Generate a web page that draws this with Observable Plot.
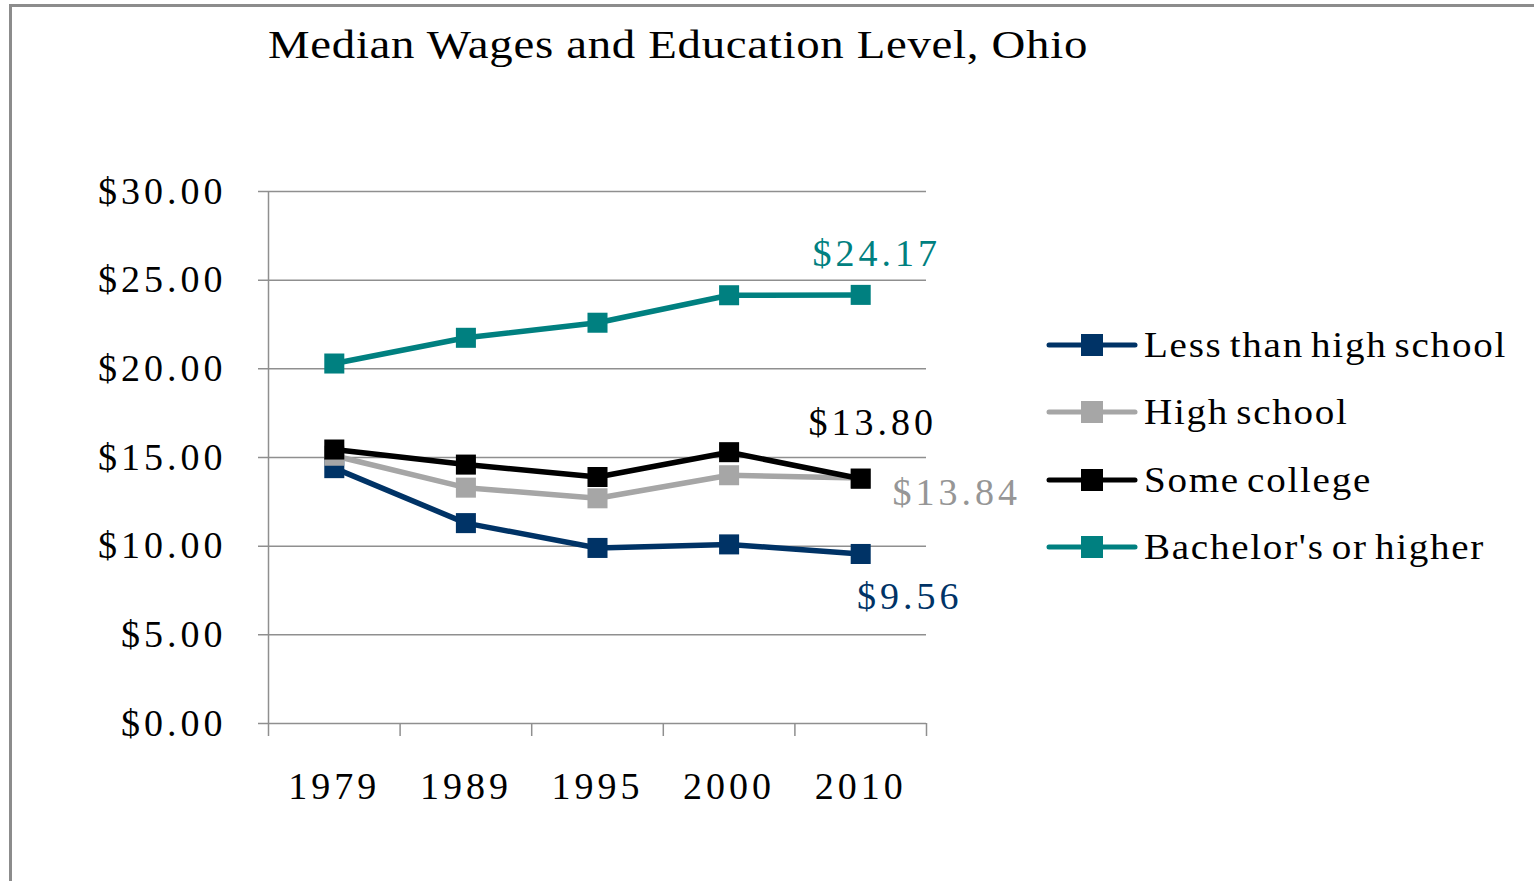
<!DOCTYPE html>
<html>
<head>
<meta charset="utf-8">
<script src="https://cdn.jsdelivr.net/npm/d3@7"></script>
<script src="https://cdn.jsdelivr.net/npm/@observablehq/plot@0.6"></script>
<style>
  html, body { margin: 0; padding: 0; background: #fff; overflow: hidden; }
  body { width: 1534px; height: 881px; position: relative; font-family: "Liberation Serif", "Times New Roman", serif; }
  #frame { position: absolute; left: 9px; top: 4px; width: 1600px; height: 1000px; border-left: 3px solid #8c8c8c; border-top: 3px solid #8c8c8c; }
  #chart { position: absolute; left: 0; top: 0; }
  #title { position: absolute; left: 268px; top: 25px; font-size: 40px; line-height: 40px; letter-spacing: 0.6px; white-space: nowrap; color: #000; transform: scaleX(1.17); transform-origin: 0 50%; }
  #legend { position: absolute; left: 1046px; top: 0; }
  .row { position: absolute; left: 0; height: 40px; display: flex; align-items: center; white-space: nowrap; }
  .row span { font-size: 36px; letter-spacing: 1.6px; word-spacing: -4px; margin-left: 6px; color: #000; display: inline-block; transform: scaleX(1.085); transform-origin: 0 50%; }
</style>
</head>
<body>
<div id="frame"></div>
<div id="chart"></div>
<div id="title">Median Wages and Education Level, Ohio</div>
<div id="legend"></div>
<script>
// ---- data ----
const years = ["1979", "1989", "1995", "2000", "2010"];
const seriesNames = ["Less than high school", "High school", "Some college", "Bachelor's or higher"];
const lessHS      = [14.40, 11.30, 9.90, 10.10, 9.56];
const highSchool  = [15.10, 13.30, 12.70, 14.00, 13.84];
const someCollege = [15.45, 14.60, 13.90, 15.30, 13.80];
const bachelors   = [20.30, 21.75, 22.60, 24.15, 24.17];
const seriesColors = ["#003366", "#a6a6a6", "#000000", "#008080"];
const labelColors  = ["#003366", "#969696", "#000000", "#008080"];
const yTicks = [0, 5, 10, 15, 20, 25, 30];
const endLabels = ["$9.56", "$13.84", "$13.80", "$24.17"];

const allValues = [lessHS, highSchool, someCollege, bachelors];
const data = [];
seriesNames.forEach((s, k) => allValues[k].forEach((v, i) => data.push({series: s, i, year: years[i], value: v})));
const lastPoints = seriesNames.map((s, k) => ({series: s, i: years.length - 1, value: allValues[k][years.length - 1], label: endLabels[k], color: labelColors[k]}));
const labelOffsets = {
  "Less than high school": {dx: 49, dy: 43},
  "High school": {dx: 96, dy: 15},
  "Some college": {dx: 12, dy: -56},
  "Bachelor's or higher": {dx: 16, dy: -41}
};
const bounds = d3.range(-0.5, years.length, 1);
const centers = d3.range(years.length);
const gridColor = "#8f8f8f";

const marks = [
  Plot.ruleY(yTicks, {x1: -0.5, x2: years.length - 0.5, insetLeft: -10, stroke: gridColor, strokeWidth: 1.5}),
  Plot.ruleX([-0.5], {stroke: gridColor, strokeWidth: 1.5}),
  Plot.ruleX(bounds, {x: d => d, y1: 0, y2: 0, insetBottom: -13, stroke: gridColor, strokeWidth: 1.5}),
  Plot.axisY({ticks: yTicks, tickSize: 0, tickPadding: 42, tickFormat: d => "$" + d.toFixed(2), fontSize: 38, fill: "#000", label: null}),
  Plot.axisX({ticks: centers, tickSize: 0, tickPadding: 49, tickFormat: i => years[i], fontSize: 38, fill: "#000", label: null})
];
seriesNames.forEach((s, k) => {
  const d = data.filter(r => r.series === s);
  marks.push(Plot.line(d, {x: "i", y: "value", stroke: seriesColors[k], strokeWidth: 5.5}));
  marks.push(Plot.dot(d, {x: "i", y: "value", symbol: "square", r: 11.3, fill: seriesColors[k], stroke: "none"}));
});
lastPoints.forEach(p => {
  const o = labelOffsets[p.series];
  marks.push(Plot.text([p], {x: "i", y: "value", text: "label", fill: p.color, dx: o.dx, dy: o.dy, fontSize: 38}));
});

const chart = Plot.plot({
  width: 1534,
  height: 881,
  marginLeft: 268,
  marginRight: 1534 - 926,
  marginTop: 191,
  marginBottom: 881 - 723,
  x: {type: "linear", domain: [-0.5, years.length - 0.5], axis: null},
  y: {domain: [0, 30], axis: null},
  style: {fontFamily: "'Liberation Serif', 'Times New Roman', serif", letterSpacing: "4px", background: "transparent", color: "#000"},
  marks
});
document.getElementById("chart").appendChild(chart);

// ---- legend ----
const legend = document.getElementById("legend");
const rowCenters = [345, 412, 480, 547];
seriesNames.forEach((s, k) => {
  const row = document.createElement("div");
  row.className = "row";
  row.style.top = (rowCenters[k] - 20) + "px";
  row.innerHTML = `<svg width="92" height="26" viewBox="0 0 92 26"><line x1="3" y1="13" x2="89" y2="13" stroke="${seriesColors[k]}" stroke-width="5" stroke-linecap="round"/><rect x="35" y="2" width="22" height="22" fill="${seriesColors[k]}"/></svg><span>${s}</span>`;
  legend.appendChild(row);
});
</script>
</body>
</html>
